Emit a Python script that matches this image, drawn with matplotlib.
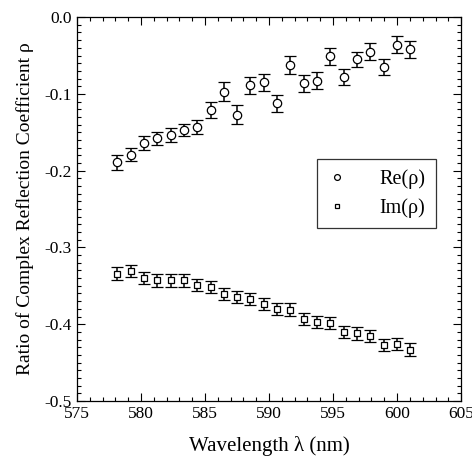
import matplotlib.pyplot as plt
from matplotlib.ticker import MultipleLocator, FormatStrFormatter

# wavelengths (nm)
wavelength = [578.15, 579.19, 580.23, 581.27, 582.31, 583.35, 584.39, 585.43,
              586.47, 587.51, 588.55, 589.59, 590.63, 591.67, 592.71, 593.75,
              594.79, 595.83, 596.87, 597.91, 598.95, 599.99, 601.04]

re_rho = [-0.189, -0.179, -0.164, -0.158, -0.154, -0.147, -0.143, -0.121,
          -0.097, -0.127, -0.089, -0.085, -0.112, -0.062, -0.086, -0.083,
          -0.051, -0.078, -0.055, -0.045, -0.065, -0.036, -0.042]
re_err = [0.010, 0.009, 0.009, 0.009, 0.009, 0.008, 0.009, 0.011,
          0.012, 0.012, 0.011, 0.011, 0.011, 0.012, 0.011, 0.011,
          0.011, 0.011, 0.010, 0.011, 0.011, 0.011, 0.011]

im_rho = [-0.334, -0.331, -0.340, -0.343, -0.343, -0.343, -0.349, -0.352,
          -0.361, -0.365, -0.367, -0.374, -0.380, -0.381, -0.393, -0.397,
          -0.398, -0.410, -0.412, -0.415, -0.427, -0.426, -0.433]
im_err = [0.008] * len(im_rho)

plt.rcParams['font.family'] = ['Liberation Serif', 'DejaVu Serif']
plt.rcParams['axes.unicode_minus'] = False

fig = plt.figure(figsize=(4.72, 4.63), dpi=100)
ax = fig.add_axes([0.163, 0.134, 0.814, 0.829])

ax.errorbar(wavelength, re_rho, yerr=re_err, fmt='o', ms=6, mfc='white',
            mec='black', mew=0.9, ecolor='black', elinewidth=1.1, capsize=4,
            capthick=1.1, label='Re(ρ)')
ax.errorbar(wavelength, im_rho, yerr=im_err, fmt='s', ms=4, mfc='white',
            mec='black', mew=0.9, ecolor='black', elinewidth=1.1, capsize=4,
            capthick=1.1, label='Im(ρ)')

ax.set_xlim(575, 605)
ax.set_ylim(-0.5, 0.0)
ax.xaxis.set_major_locator(MultipleLocator(5))
ax.xaxis.set_minor_locator(MultipleLocator(1))
ax.yaxis.set_major_locator(MultipleLocator(0.1))
ax.yaxis.set_minor_locator(MultipleLocator(0.01))
ax.yaxis.set_major_formatter(FormatStrFormatter('%.1f'))
ax.tick_params(which='both', direction='in', top=True, right=True,
               labelsize=12.5, width=0.8)
ax.tick_params(which='major', length=6)
ax.tick_params(which='minor', length=3)
for s in ax.spines.values():
    s.set_linewidth(0.9)

ax.set_xlabel('Wavelength λ (nm)', fontsize=15, labelpad=10)
ax.set_ylabel('Ratio of Complex Reflection Coefficient ρ', fontsize=14,
              labelpad=8)

handles, labels = ax.get_legend_handles_labels()
handles = [h[0] for h in handles]
leg = ax.legend(handles, labels, loc='upper left',
                bbox_to_anchor=(0.625, 0.63), borderaxespad=0, fontsize=14.5,
                frameon=True, fancybox=False, edgecolor='black',
                markerfirst=True, handlelength=1.0, handletextpad=1.6,
                borderpad=0.5, labelspacing=0.45, markerscale=0.7)
leg.get_frame().set_linewidth(0.9)

fig.savefig('out.png', dpi=100)
